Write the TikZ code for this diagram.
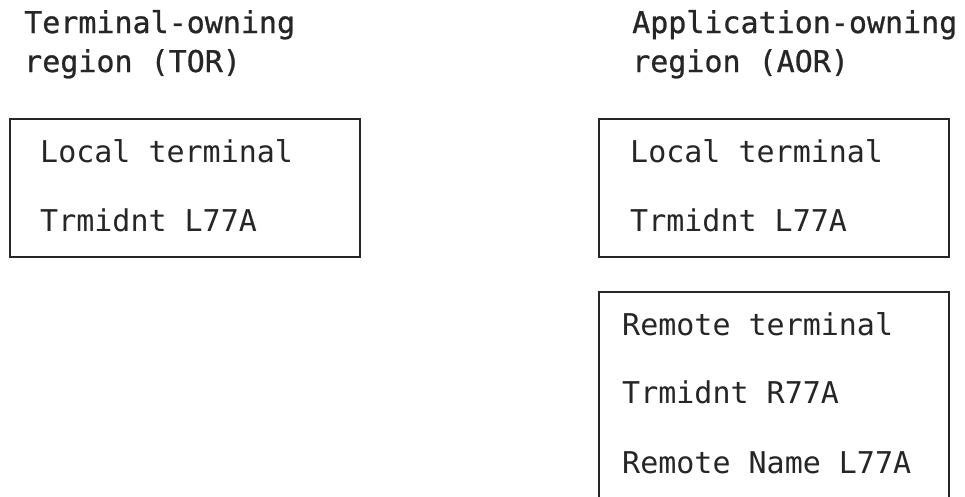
\documentclass[tikz,border=0pt]{standalone}
\usepackage{fontspec}
\setmonofont{DejaVu Sans Mono}
\newfontfamily\hdrfont[FakeBold=0.8]{DejaVu Sans Mono}
\begin{document}
\begin{tikzpicture}[x=1pt,y=-1pt,
  lbl/.style={anchor=base west,inner sep=0pt,font=\ttfamily\fontsize{30}{36}\selectfont,text=black!85},
  hdr/.style={anchor=base west,inner sep=0pt,font=\hdrfont\fontsize{30}{36}\selectfont,text=black!85},
  regbox/.style={draw=black!85,line width=1.8pt,rectangle,inner sep=0pt,anchor=north west}]
\clip (0,0) rectangle (965,496);
\fill[white] (0,0) rectangle (965,496);
% headings
\node[hdr] (torh1) at (24,33) {Terminal-owning};
\node[hdr] (torh2) at (24,72) {region (TOR)};
\node[hdr] (aorh1) at (632,33) {Application-owning};
\node[hdr] (aorh2) at (632,72) {region (AOR)};
% boxes
\node[regbox,minimum width=350pt,minimum height=138pt] (torbox) at (9,118) {};
\node[regbox,minimum width=350pt,minimum height=138pt] (aorbox) at (598,118) {};
\node[regbox,minimum width=350pt,minimum height=230pt] (rembox) at (598,291) {};
% box texts
\node[lbl] (t1) at (40,162) {Local terminal};
\node[lbl] (t2) at (40,231) {Trmidnt L77A};
\node[lbl] (a1) at (630,162) {Local terminal};
\node[lbl] (a2) at (630,231) {Trmidnt L77A};
\node[lbl] (r1) at (622,335) {Remote terminal};
\node[lbl] (r2) at (622,403) {Trmidnt R77A};
\node[lbl] (r3) at (622,473) {Remote Name L77A};
\end{tikzpicture}
\end{document}
